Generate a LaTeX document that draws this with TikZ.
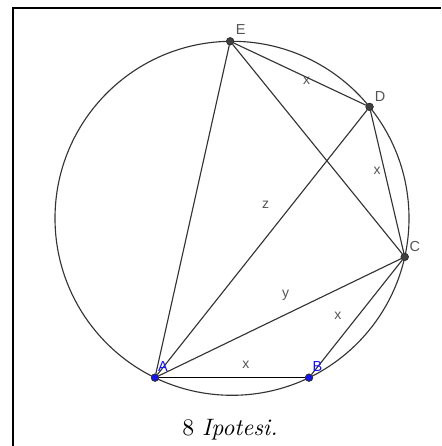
\documentclass[tikz,border=0pt]{standalone}
\usepackage{fontspec}
\usepackage{tikz}
\usetikzlibrary{positioning,calc}
\newfontfamily\geofont{Liberation Sans}
\definecolor{geogray}{RGB}{85,85,85}
\definecolor{geoblue}{RGB}{20,20,240}

\begin{document}
\begin{tikzpicture}[
    x=0.4pt, y=0.4pt,
    seg/.style={draw=black!80, line width=0.45pt},
    pt/.style={circle, draw=black!80, line width=0.3pt, fill=black!75, inner sep=0pt, minimum size=2.9pt},
    bluept/.style={pt, fill=geoblue},
    ptname/.style={font=\geofont\fontsize{5.8}{7}\selectfont, text=geogray, inner sep=0pt},
    bluename/.style={ptname, text=geoblue},
    seglabel/.style={font=\geofont\fontsize{5.6}{7}\selectfont, text=geogray, inner sep=0pt}
]
\useasboundingbox (0,0) rectangle (441,446);

% frame
\draw[line width=0.8pt] (13,0) -- (13,438.2) -- (441,438.2);

% circle
\coordinate (O) at (232,227.7);
\draw[seg] (O) circle[radius=177];

% points on the circle
\node[bluept] (A) at ($(O)+(-115.8:177)$) {};
\node[bluept] (B) at ($(O)+(-64.2:177)$) {};
\node[pt] (C) at ($(O)+(-12.6:177)$) {};
\node[pt] (D) at ($(O)+(39:177)$) {};
\node[pt] (E) at ($(O)+(90.6:177)$) {};

% segments
\draw[draw=black, line width=0.6pt] (A) -- (B);
\draw[seg] (B) -- (C);
\draw[seg] (C) -- (D);
\draw[seg] (D) -- (E);
\draw[seg] (E) -- (A);
\draw[seg] (E) -- (C);
\draw[seg] (A) -- (D);
\draw[seg] (A) -- (C);

% redraw points on top
\node[bluept] at (A) {};
\node[bluept] at (B) {};
\node[pt] at (C) {};
\node[pt] at (D) {};
\node[pt] at (E) {};

% point names
\node[bluename, xshift=3.2pt, yshift=4.5pt] (nA) at (A) {A};
\node[bluename, xshift=3.4pt, yshift=4.5pt] (nB) at (B) {B};
\node[ptname, xshift=4.1pt, yshift=4.1pt] (nC) at (C) {C};
\node[ptname, xshift=4.2pt, yshift=4.1pt] (nD) at (D) {D};
\node[ptname, xshift=4.2pt, yshift=4.6pt] (nE) at (E) {E};

% lengths
\node[seglabel] (xAB) at (245.8,81) {x};
\node[seglabel] (xBC) at (337.8,130) {x};
\node[seglabel] (xCD) at (377,275.5) {x};
\node[seglabel] (xDE) at (306.7,365.5) {x};
\node[seglabel] (yAC) at (285.5,150.3) {y};
\node[seglabel] (zAD) at (265.7,241.3) {z};

% caption
\node[font=\fontsize{9.5}{11}\selectfont, inner sep=0pt] (caption) at (230,16) {8 \textit{Ipotesi.}};
\end{tikzpicture}
\end{document}
